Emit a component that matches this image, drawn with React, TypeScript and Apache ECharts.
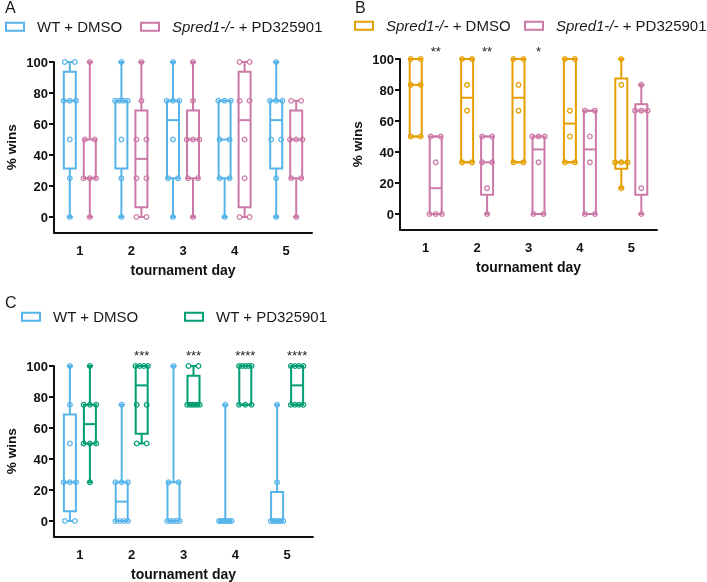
import React, { useEffect, useRef } from "react";
import * as echarts from "echarts";

const days = ["1", "2", "3", "4", "5"];
const yTicks = [0, 20, 40, 60, 80, 100];

// box stats per day: [min, q1, median, q3, max]
const aWtBox = [[0, 31.25, 75, 93.75, 100], [0, 31.25, 75, 75, 100], [0, 25, 62.5, 75, 100], [0, 25, 50, 75, 75], [0, 31.25, 62.5, 75, 100]];
const aWtPts = [[100, 100, 75, 75, 75, 50, 25, 0], [100, 75, 75, 75, 75, 50, 25, 0], [100, 75, 75, 75, 50, 25, 25, 0], [75, 75, 75, 50, 50, 25, 25, 0], [100, 75, 75, 75, 50, 50, 25, 0]];
const aPdBox = [[0, 25, 25, 50, 100], [0, 6.25, 37.5, 68.75, 100], [0, 25, 50, 68.75, 100], [0, 6.25, 62.5, 93.75, 100], [0, 25, 50, 68.75, 75]];
const aPdPts = [[100, 50, 50, 25, 25, 25, 0], [100, 75, 50, 50, 25, 25, 0, 0], [100, 75, 50, 50, 50, 25, 25, 0], [100, 100, 75, 75, 50, 25, 0, 0], [75, 75, 50, 50, 50, 25, 25, 0]];

const bDmBox = [[50, 50, 83.33, 100, 100], [33.33, 33.33, 75, 100, 100], [33.33, 33.33, 75, 100, 100], [33.33, 33.33, 58.33, 100, 100], [16.67, 29.17, 33.33, 87.5, 100]];
const bDmPts = [[100, 100, 83.33, 83.33, 50, 50], [100, 100, 83.33, 66.67, 33.33, 33.33], [100, 100, 83.33, 66.67, 33.33, 33.33], [100, 100, 66.67, 50, 33.33, 33.33], [100, 83.33, 33.33, 33.33, 33.33, 16.67]];
const bPdBox = [[0, 0, 16.67, 50, 50], [0, 12.5, 33.33, 50, 50], [0, 0, 41.67, 50, 50], [0, 0, 41.67, 66.67, 66.67], [0, 12.5, 66.67, 70.83, 83.33]];
const bPdPts = [[50, 50, 33.33, 0, 0, 0], [50, 50, 33.33, 33.33, 16.67, 0], [50, 50, 50, 33.33, 0, 0], [66.67, 66.67, 50, 33.33, 0, 0], [83.33, 66.67, 66.67, 66.67, 16.67, 0]];
const bStars = ["**", "**", "*", "", ""];

const cWtBox = [[0, 6.25, 25, 68.75, 100], [0, 0, 12.5, 25, 75], [0, 0, 0, 25, 100], [0, 0, 0, 0, 75], [0, 0, 0, 18.75, 75]];
const cWtPts = [[100, 75, 50, 25, 25, 25, 0, 0], [75, 25, 25, 25, 0, 0, 0, 0], [100, 25, 25, 0, 0, 0, 0, 0], [75, 0, 0, 0, 0, 0, 0, 0], [75, 25, 0, 0, 0, 0, 0, 0]];
const cPdBox = [[25, 50, 62.5, 75, 100], [50, 56.25, 87.5, 100, 100], [75, 75, 75, 93.75, 100], [75, 75, 100, 100, 100], [75, 75, 87.5, 100, 100]];
const cPdPts = [[100, 75, 75, 75, 50, 50, 50, 25], [100, 100, 100, 100, 75, 75, 50, 50], [100, 100, 75, 75, 75, 75, 75, 75], [100, 100, 100, 100, 100, 75, 75, 75], [100, 100, 100, 100, 75, 75, 75, 75]];
const cStars = ["", "***", "***", "****", "****"];

const BLUE = "#56B4E9";
const PINK = "#CC79A7";
const ORANGE = "#E69F00";
const GREEN = "#009E73";
const FONT = "'Liberation Sans', Arial, Helvetica, sans-serif";

function boxSeries(name: string, gi: number, color: string, boxes: number[][], pts: number[][], offset: number, stars?: string[], starGap = 9) {
  return {
    type: "custom",
    name,
    xAxisIndex: gi,
    yAxisIndex: gi,
    data: boxes.map((b, i) => [i, ...b]),
    renderItem: (params: any, api: any) => {
      const i = api.value(0);
      const mn = api.value(1), q1 = api.value(2), md = api.value(3), q3 = api.value(4), mx = api.value(5);
      const cx = api.coord([i, 0])[0] + offset;
      const y = (v: number) => api.coord([i, v])[1];
      const hw = 6, cw = 3;
      const ls = { stroke: color, lineWidth: 2, fill: "none" };
      const children: any[] = [
        { type: "line", shape: { x1: cx, y1: y(q3), x2: cx, y2: y(mx) }, style: ls },
        { type: "line", shape: { x1: cx, y1: y(q1), x2: cx, y2: y(mn) }, style: ls },
        { type: "line", shape: { x1: cx - cw, y1: y(mx), x2: cx + cw, y2: y(mx) }, style: ls },
        { type: "line", shape: { x1: cx - cw, y1: y(mn), x2: cx + cw, y2: y(mn) }, style: ls },
        { type: "rect", shape: { x: cx - hw, y: y(q3), width: 2 * hw, height: Math.max(y(q1) - y(q3), 0.5) }, style: ls },
        { type: "line", shape: { x1: cx - hw, y1: y(md), x2: cx + hw, y2: y(md) }, style: ls },
      ];
      const list = pts[i] || [];
      const counts: Record<string, number> = {};
      list.forEach((v) => { counts[v] = (counts[v] || 0) + 1; });
      const seen: Record<string, number> = {};
      list.forEach((v) => {
        const k = counts[v];
        const j = seen[v] || 0;
        seen[v] = j + 1;
        const sp = k > 1 ? Math.min(10, 12.5 / (k - 1)) : 0;
        const dx = (j - (k - 1) / 2) * sp;
        children.push({ type: "circle", shape: { cx: cx + dx, cy: y(v), r: 2.3 }, style: { fill: "none", stroke: color, lineWidth: 1.3 } });
      });
      if (stars && stars[i]) {
        children.push({
          type: "text",
          x: cx,
          y: y(100) - starGap,
          style: { text: stars[i], fontSize: 13, fontFamily: FONT, fill: "#222", align: "center", verticalAlign: "middle" },
        });
      }
      return { type: "group", children };
    },
  };
}

function xAxis(gi: number) {
  return {
    type: "category",
    gridIndex: gi,
    data: days,
    name: "tournament day",
    nameLocation: "middle",
    nameGap: 30,
    nameTextStyle: { fontFamily: FONT, fontWeight: "bold", fontSize: 14, color: "#111" },
    axisLine: { onZero: false, lineStyle: { color: "#111", width: 2 } },
    axisTick: { alignWithLabel: true, interval: 0, length: 5, lineStyle: { color: "#111", width: 2 } },
    axisLabel: { fontFamily: FONT, fontWeight: "bold", fontSize: 13, color: "#111", margin: 11 },
    splitLine: { show: false },
  };
}

function yAxis(gi: number) {
  return {
    type: "value",
    gridIndex: gi,
    min: -10,
    max: 100,
    name: "% wins",
    nameLocation: "middle",
    nameGap: 36,
    nameTextStyle: { fontFamily: FONT, fontWeight: "bold", fontSize: 13.5, color: "#111" },
    axisLine: { show: true, lineStyle: { color: "#111", width: 2 } },
    axisTick: { show: true, length: 5, customValues: yTicks, lineStyle: { color: "#111", width: 2 } },
    axisLabel: { fontFamily: FONT, fontWeight: "bold", fontSize: 13, color: "#111", margin: 6, customValues: yTicks },
    splitLine: { show: false },
  };
}

function legendItem(x: number, yc: number, color: string, text: string, rich = false) {
  return [
    { type: "rect", shape: { x, y: yc - 4, width: 18, height: 8 }, style: { fill: "#fff", stroke: color, lineWidth: 2 } },
    {
      type: "text",
      style: {
        x: x + 31,
        y: yc,
        text,
        fontSize: 15,
        fontFamily: FONT,
        fill: "#1a1a1a",
        verticalAlign: "middle",
        rich: rich ? { i: { fontStyle: "italic", fontSize: 15, fontFamily: FONT, fill: "#1a1a1a" } } : undefined,
      },
    },
  ];
}

function panelLabel(x: number, yc: number, t: string) {
  return { type: "text", style: { x, y: yc, text: t, fontSize: 16, fontFamily: FONT, fill: "#1a1a1a", verticalAlign: "middle" } };
}

export default function App() {
  const ref = useRef<HTMLDivElement>(null);
  useEffect(() => {
    if (!ref.current) return;
    const chart = echarts.init(ref.current, undefined, { renderer: "svg" });
    chart.setOption({
      animation: false,
      grid: [
        { left: 54, top: 62, width: 258, height: 170.5 },
        { left: 400, top: 59, width: 257, height: 170.5 },
        { left: 54, top: 366, width: 259, height: 170.5 },
      ],
      xAxis: [xAxis(0), xAxis(1), xAxis(2)],
      yAxis: [yAxis(0), yAxis(1), yAxis(2)],
      series: [
        boxSeries("WT + DMSO", 0, BLUE, aWtBox, aWtPts, -10),
        boxSeries("Spred1-/- + PD325901", 0, PINK, aPdBox, aPdPts, 10),
        boxSeries("Spred1-/- + DMSO", 1, ORANGE, bDmBox, bDmPts, -10),
        boxSeries("Spred1-/- + PD325901 ", 1, PINK, bPdBox, bPdPts, 10, bStars, 8),
        boxSeries("WT + DMSO ", 2, BLUE, cWtBox, cWtPts, -10),
        boxSeries("WT + PD325901", 2, GREEN, cPdBox, cPdPts, 10, cStars, 11),
      ],
      graphic: [
        panelLabel(5, 7.5, "A"),
        panelLabel(355, 7.7, "B"),
        panelLabel(5, 302, "C"),
        ...legendItem(6, 26.7, BLUE, "WT + DMSO"),
        ...legendItem(141, 26.7, PINK, "{i|Spred1-/-} + PD325901", true),
        ...legendItem(355, 25.7, ORANGE, "{i|Spred1-/-} + DMSO", true),
        ...legendItem(525, 25.7, PINK, "{i|Spred1-/-} + PD325901", true),
        ...legendItem(22, 316.7, BLUE, "WT + DMSO"),
        ...legendItem(185, 316.7, GREEN, "WT + PD325901"),
      ],
    });
    return () => chart.dispose();
  }, []);
  return <div ref={ref} style={{ position: "fixed", left: 0, top: 0, width: 707, height: 582 }} />;
}
